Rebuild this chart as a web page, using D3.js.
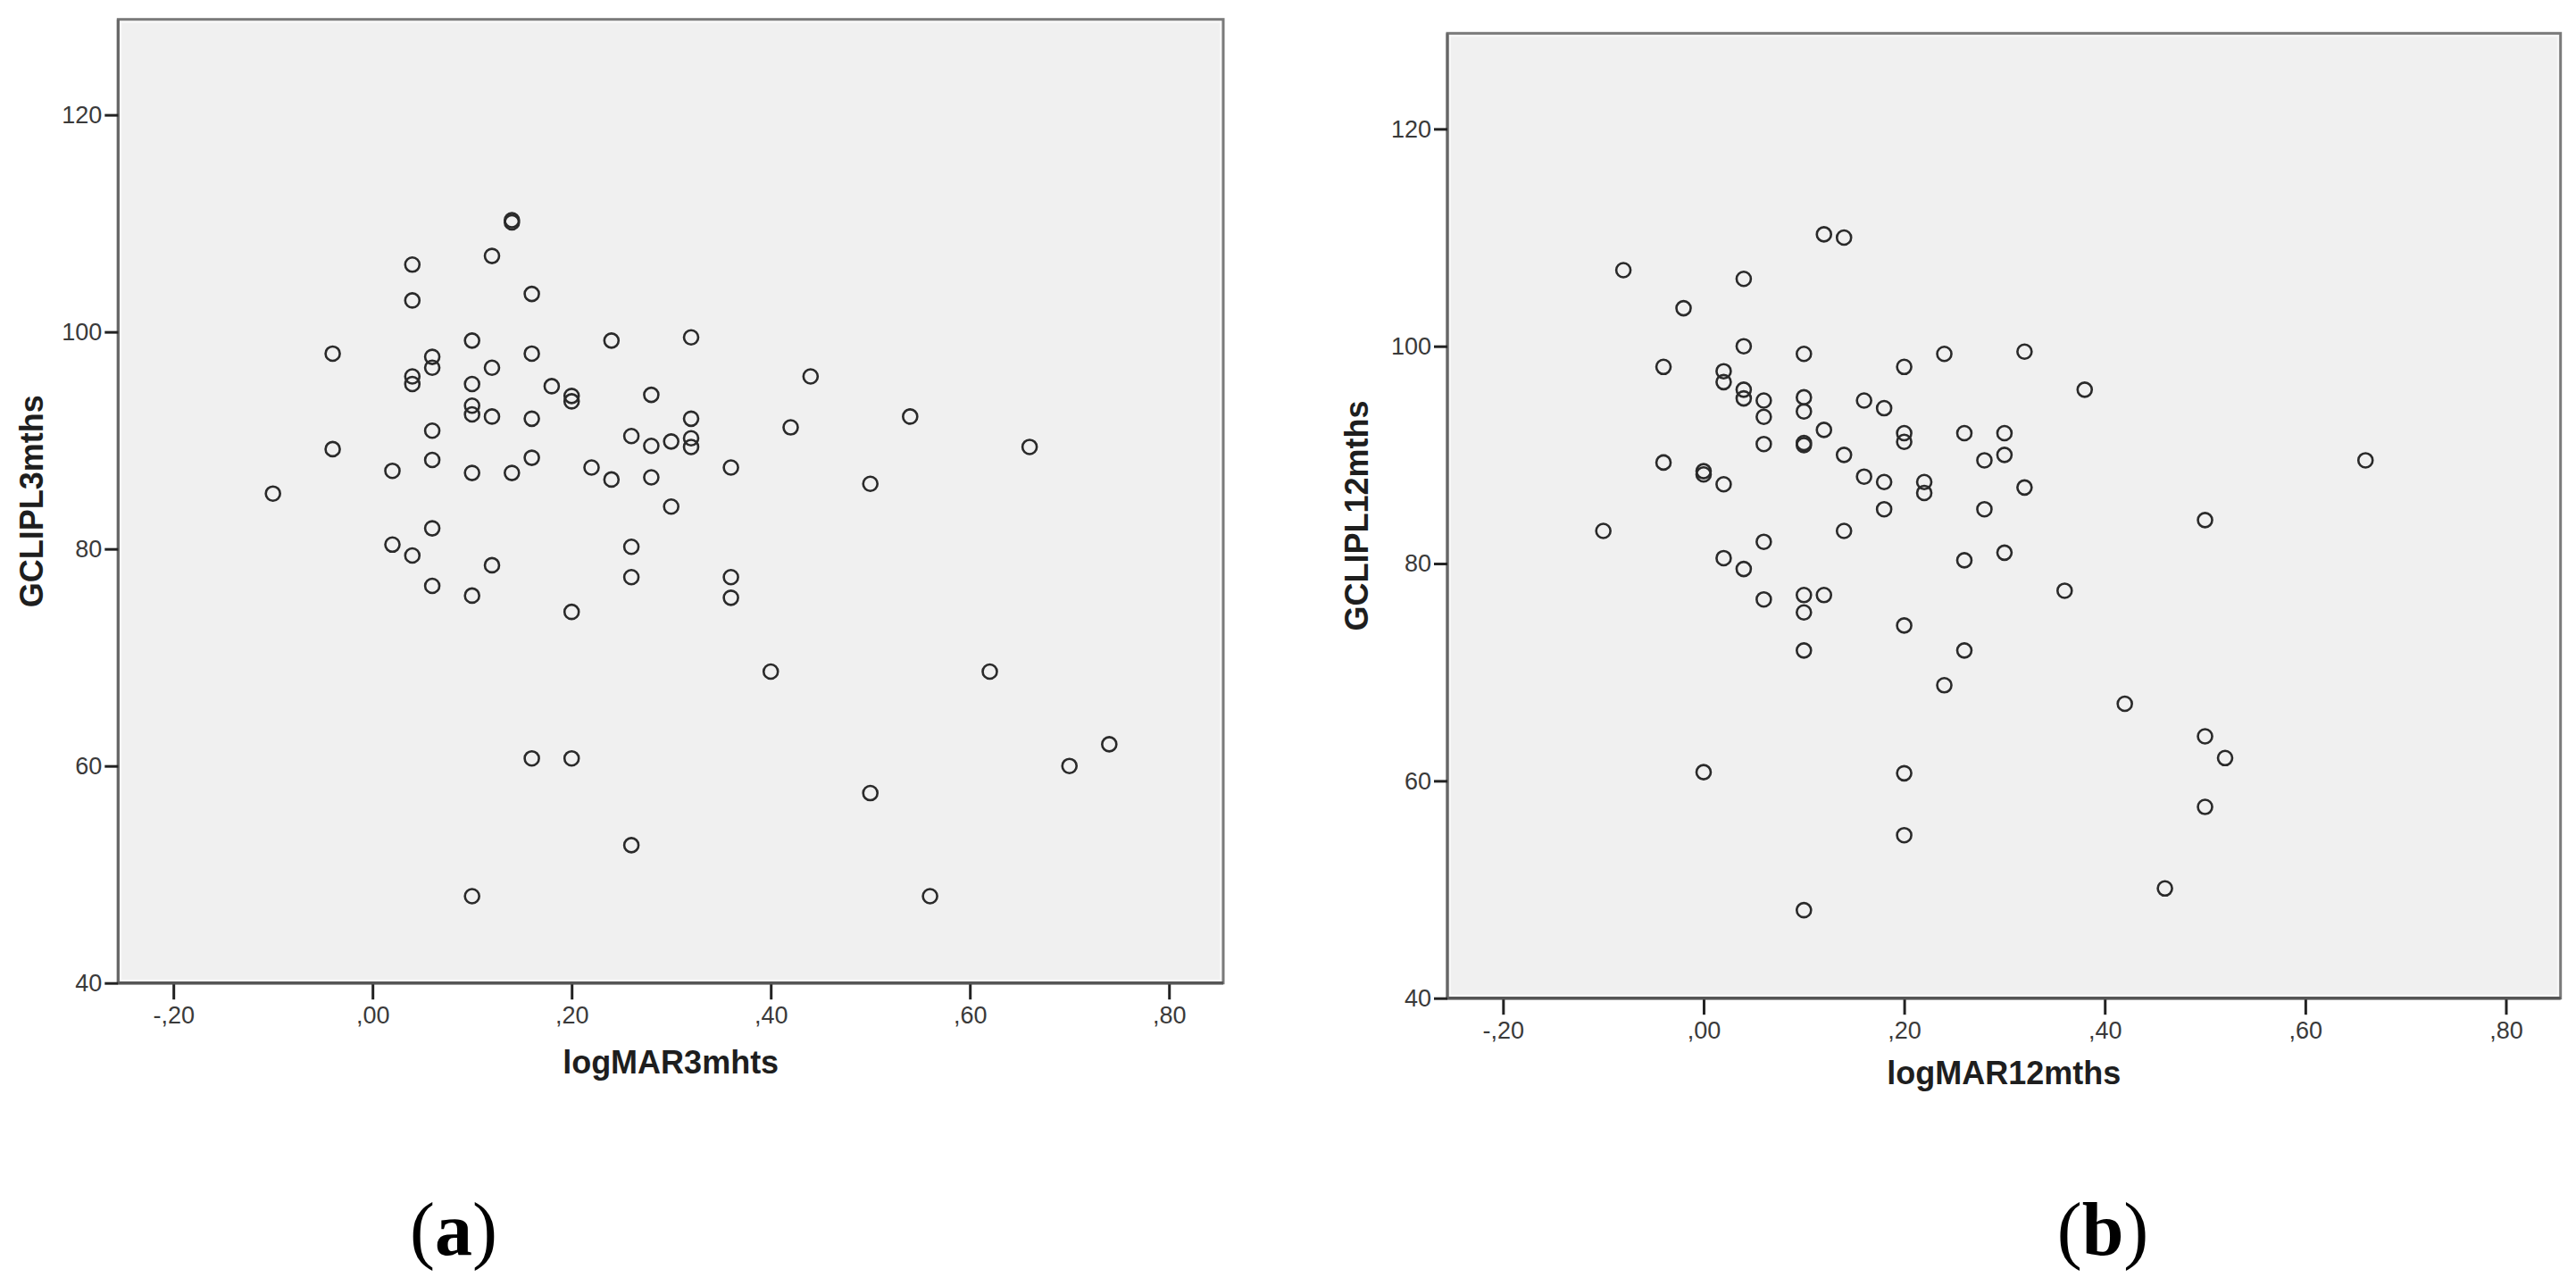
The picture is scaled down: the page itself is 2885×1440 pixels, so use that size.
<!DOCTYPE html>
<html>
<head>
<meta charset="utf-8">
<script src="https://cdn.jsdelivr.net/npm/d3@7/dist/d3.min.js"></script>
<style>
  html, body { margin: 0; padding: 0; background: #fff; }
  svg { display: block; }
</style>
</head>
<body>
<svg id="chart" width="2885" height="1440"></svg>
<script>
// ---- Data ----
const xTicks = [-0.2, 0, 0.2, 0.4, 0.6, 0.8];
const xTickLabels = ["-,20", ",00", ",20", ",40", ",60", ",80"];
const yTicks = [40, 60, 80, 100, 120];

// Panel (a): logMAR at 3 months vs GCIPL at 3 months
const logMAR3 = [-0.10,-0.04,-0.04,0.02,0.02,0.04,0.04,0.04,0.04,0.04,
  0.06,0.06,0.06,0.06,0.06,0.06,0.10,0.10,0.10,0.10,0.10,0.10,0.10,
  0.12,0.12,0.12,0.12,0.14,0.14,0.14,0.16,0.16,0.16,0.16,0.16,0.18,
  0.20,0.20,0.20,0.20,0.22,0.24,0.24,0.26,0.26,0.26,0.26,0.28,0.28,0.28,
  0.30,0.30,0.32,0.32,0.32,0.32,0.36,0.36,0.36,0.40,0.42,0.44,0.50,0.50,
  0.54,0.56,0.62,0.66,0.70,0.74];
const gcipl3 = [85.1,98.0,89.2,87.2,80.4,106.2,102.9,95.9,95.2,79.4,
  97.7,96.7,90.9,88.2,81.9,76.6,99.2,95.2,93.2,92.4,87.0,75.7,48.0,
  107.0,96.7,92.2,78.5,110.1,110.3,87.0,103.5,98.0,92.0,88.4,60.7,95.0,
  94.1,93.6,74.2,60.7,87.5,99.2,86.4,90.4,80.2,77.4,52.7,94.2,89.5,86.6,
  89.9,83.9,99.5,92.0,90.2,89.4,87.5,77.4,75.5,68.7,91.2,95.9,86.0,57.5,
  92.2,48.0,68.7,89.4,60.0,62.0];

// Panel (b): logMAR at 12 months vs GCIPL at 12 months
const logMAR12 = [-0.10,-0.08,-0.02,-0.04,-0.04,0.00,0.00,0.00,0.02,0.02,0.02,0.02,
  0.04,0.04,0.04,0.04,0.04,0.06,0.06,0.06,0.06,0.06,
  0.10,0.10,0.10,0.10,0.10,0.10,0.10,0.10,0.10,0.12,0.12,0.12,0.14,0.14,0.14,
  0.16,0.16,0.18,0.18,0.18,0.20,0.20,0.20,0.20,0.20,0.20,0.22,0.22,0.24,0.24,
  0.26,0.26,0.26,0.28,0.28,0.30,0.30,0.30,0.32,0.32,0.36,0.38,0.42,0.46,
  0.50,0.50,0.50,0.52,0.66];
const gcipl12 = [83.0,107.0,103.5,98.1,89.3,88.5,88.2,60.8,97.7,96.7,87.3,80.5,
  106.2,100.0,96.0,95.2,79.5,95.0,93.5,91.0,82.0,76.7,
  99.3,95.3,94.0,91.1,90.9,77.1,75.5,72.0,48.1,110.3,92.3,77.1,110.0,90.0,83.0,
  95.0,88.0,94.3,87.5,85.0,98.1,92.0,91.2,74.3,60.7,55.0,87.5,86.5,99.3,68.8,
  92.0,80.3,72.0,89.5,85.0,92.0,90.0,81.0,99.5,87.0,77.5,96.0,67.1,50.1,
  84.0,64.1,57.6,62.1,89.5];

const xDomain = [-0.2555, 0.8545];
const yDomain = [40, 128.8];

// ---- Layout ----
const panels = [
  { xs: logMAR3, ys: gcipl3, left: 132.3, right: 1370, top: 21.7, bottom: 1100.7,
    xTitle: "logMAR3mhts", yTitle: "GCLIPL3mths", xTitleY: 1202, yTitleX: 48,
    tag: "a", tagX: 508 },
  { xs: logMAR12, ys: gcipl12, left: 1621, right: 2867.7, top: 37.3, bottom: 1117.7,
    xTitle: "logMAR12mths", yTitle: "GCLIPL12mths", xTitleY: 1214, yTitleX: 1532,
    tag: "b", tagX: 2355 }
];

const svg = d3.select("#chart");

panels.forEach(p => {
  const x = d3.scaleLinear().domain(xDomain).range([p.left, p.right]);
  const y = d3.scaleLinear().domain(yDomain).range([p.bottom, p.top]);
  const g = svg.append("g");

  // plot background + frame
  g.append("rect")
    .attr("x", p.left).attr("y", p.top)
    .attr("width", p.right - p.left).attr("height", p.bottom - p.top)
    .attr("fill", "#f0f0f0")
    .attr("stroke", "#7a7a7a").attr("stroke-width", 3);
  // inner light line
  g.append("rect")
    .attr("x", p.left + 3).attr("y", p.top + 3)
    .attr("width", p.right - p.left - 6).attr("height", p.bottom - p.top - 6)
    .attr("fill", "none")
    .attr("stroke", "#f8f8f8").attr("stroke-width", 2);
  // darker bottom & left axis lines
  g.append("line")
    .attr("x1", p.left).attr("x2", p.right).attr("y1", p.bottom).attr("y2", p.bottom)
    .attr("stroke", "#555").attr("stroke-width", 3.5);
  g.append("line")
    .attr("x1", p.left).attr("x2", p.left).attr("y1", p.top).attr("y2", p.bottom)
    .attr("stroke", "#666").attr("stroke-width", 3);

  // x axis
  const xAxis = d3.axisBottom(x)
    .tickValues(xTicks)
    .tickSize(17).tickSizeOuter(0).tickPadding(8)
    .tickFormat((d, i) => xTickLabels[i]);
  const gx = g.append("g")
    .attr("transform", `translate(0,${p.bottom + 1.5})`)
    .call(xAxis);
  gx.select(".domain").remove();
  gx.selectAll(".tick line").attr("stroke", "#222").attr("stroke-width", 3);
  gx.selectAll(".tick text")
    .attr("fill", "#3a3a3a")
    .style("font-family", "'Liberation Sans', Arial, sans-serif")
    .style("font-size", "27px");

  // y axis
  const yAxis = d3.axisLeft(y)
    .tickValues(yTicks)
    .tickSize(15).tickSizeOuter(0).tickPadding(3)
    .tickFormat(d3.format("d"));
  const gy = g.append("g")
    .attr("transform", `translate(${p.left},0)`)
    .call(yAxis);
  gy.select(".domain").remove();
  gy.selectAll(".tick line").attr("stroke", "#222").attr("stroke-width", 3);
  gy.selectAll(".tick text")
    .attr("fill", "#3a3a3a")
    .style("font-family", "'Liberation Sans', Arial, sans-serif")
    .style("font-size", "27px");

  // points
  g.append("g").selectAll("circle")
    .data(p.xs.map((v, i) => [v, p.ys[i]]))
    .join("circle")
    .attr("cx", d => x(d[0]))
    .attr("cy", d => y(d[1]))
    .attr("r", 8)
    .attr("fill", "none")
    .attr("stroke", "#2a2a2a")
    .attr("stroke-width", 2.6);

  // axis titles
  g.append("text")
    .attr("x", (p.left + p.right) / 2)
    .attr("y", p.xTitleY)
    .attr("text-anchor", "middle")
    .attr("fill", "#1e1e1e")
    .style("font-family", "'Liberation Sans', Arial, sans-serif")
    .style("font-weight", "bold")
    .style("font-size", "36px")
    .text(p.xTitle);
  g.append("text")
    .attr("transform", `translate(${p.yTitleX},${(p.top + p.bottom) / 2}) rotate(-90)`)
    .attr("text-anchor", "middle")
    .attr("fill", "#1e1e1e")
    .style("font-family", "'Liberation Sans', Arial, sans-serif")
    .style("font-weight", "bold")
    .style("font-size", "36px")
    .text(p.yTitle);

  // sub-figure tag
  const t = svg.append("text")
    .attr("x", p.tagX).attr("y", 1405)
    .attr("text-anchor", "middle")
    .attr("fill", "#000")
    .style("font-family", "'Liberation Serif', 'Times New Roman', serif")
    .style("font-size", "84px");
  t.append("tspan").text("(");
  t.append("tspan").style("font-weight", "bold").text(p.tag);
  t.append("tspan").text(")");
});
</script>
</body>
</html>
